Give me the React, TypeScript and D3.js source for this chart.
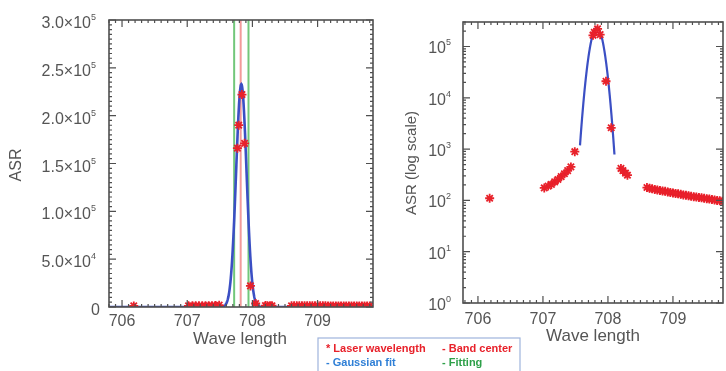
import React from "react";
import * as d3 from "d3";

// ---- data ----
const waveLength = [
  706.18, 707.02, 707.08, 707.13, 707.18, 707.23, 707.28, 707.33, 707.38, 707.43, 707.49,
  707.77, 707.79, 707.84, 707.88, 707.97, 708.05,
  708.2, 708.23, 708.27, 708.3,
  708.6, 708.64, 708.68, 708.72, 708.76, 708.8, 708.84, 708.88, 708.92, 708.96, 709.0,
  709.04, 709.08, 709.12, 709.16, 709.2, 709.24, 709.28, 709.32, 709.36, 709.4, 709.44,
  709.48, 709.52, 709.56, 709.6, 709.64, 709.68, 709.72, 709.76, 709.8,
];
const asrValue = [
  110, 175, 190, 205, 230, 255, 290, 330, 380, 450, 890,
  165000, 189000, 221000, 170000, 21000, 2600,
  420, 380, 340, 310,
  178, 172, 168, 163, 160, 156, 152, 150, 146, 143, 140,
  137, 134, 131, 128, 126, 123, 120, 118, 116, 114, 112,
  110, 108, 106, 104, 102, 100, 98, 96, 95,
];

// Gaussian fit parameters
const gaussAmp = 2.33e5;
const gaussCenter = 707.83;
const gaussSigma = 0.08;
const logFitRange = [707.57, 708.1];

const bandCenter = 707.82;
const fittingBounds = [707.72, 707.94];

const xTicks = [706, 707, 708, 709];
const linTicks = [0, 5e4, 1e5, 1.5e5, 2e5, 2.5e5, 3e5];
const logTicks = [1, 10, 100, 1e3, 1e4, 1e5];

const legendLabels = ["* Laser wavelength", "- Band center", "- Gaussian fit", "- Fitting"];
const legendColors = ["#e8202a", "#e8202a", "#2f7fd6", "#2fa04a"];

const FONT = "'Liberation Sans', Arial, Helvetica, sans-serif";
const TXT = "#555";
const FRAME = "#505050";
const RED = "#e8202a";
const BLUE = "#3b4fc4";

function gauss(x: number) {
  return gaussAmp * Math.exp(-((x - gaussCenter) ** 2) / (2 * gaussSigma ** 2));
}

function Star({ x, y, r = 4.5 }: { x: number; y: number; r?: number }) {
  const d = [0, 45, 90, 135]
    .map((a) => {
      const t = (a * Math.PI) / 180;
      const dx = r * Math.cos(t), dy = r * Math.sin(t);
      return `M${x - dx},${y - dy}L${x + dx},${y + dy}`;
    })
    .join("");
  return <path d={d} stroke={RED} strokeWidth={1.8} fill="none" />;
}

function Frame({ x, y, xMinor, yMinor, yMajor }: any) {
  const [x0, x1] = x.range();
  const [y1, y0] = y.range();
  const ticks: string[] = [];
  xMinor.forEach((v: number) => {
    const px = x(v);
    const len = Math.abs(v - Math.round(v)) < 1e-6 ? 7 : 3;
    ticks.push(`M${px},${y1}V${y1 - len}M${px},${y0}V${y0 + len}`);
  });
  yMinor.forEach((v: number) => {
    const py = y(v);
    ticks.push(`M${x0},${py}H${x0 + 3}M${x1},${py}H${x1 - 3}`);
  });
  yMajor.forEach((v: number) => {
    const py = y(v);
    ticks.push(`M${x0},${py}H${x0 + 7}M${x1},${py}H${x1 - 7}`);
  });
  return (
    <g>
      <rect x={x0} y={y0} width={x1 - x0} height={y1 - y0} fill="none" stroke={FRAME} strokeWidth={1.6} />
      <path d={ticks.join("")} stroke={FRAME} strokeWidth={1.2} fill="none" />
    </g>
  );
}

export default function App() {
  // left panel (linear)
  const xL = d3.scaleLinear().domain([705.8, 709.85]).range([109, 373]);
  const yL = d3.scaleLinear().domain([0, 3e5]).range([307, 20]);
  // right panel (log)
  const xR = d3.scaleLinear().domain([705.77, 709.77]).range([463, 723]);
  const yR = d3.scaleLog().domain([1, 3e5]).range([303, 22]);

  const xMinor = d3.range(7058, 7099).map((v) => v / 10);
  const linMinor = d3.range(0, 300001, 5000);
  const logMinor: number[] = [];
  for (let k = 0; k < 6; k++) for (let m = 1; m < 10; m++) if (m * 10 ** k <= 3e5) logMinor.push(m * 10 ** k);

  const fitXs = d3.range(0, 801).map((i) => 705.8 + (i * (709.85 - 705.8)) / 800);
  const lineL = d3.line<number>().x((v) => xL(v)).y((v) => yL(gauss(v)))(fitXs) as string;
  const fitXsR = d3.range(0, 201).map((i) => logFitRange[0] + (i * (logFitRange[1] - logFitRange[0])) / 200);
  const lineR = d3.line<number>().x((v) => xR(v)).y((v) => yR(gauss(v)))(fitXsR) as string;

  const pts = waveLength.map((w, i) => ({ w, v: asrValue[i] }));

  const fmtLin = (v: number) => {
    if (v === 0) return { m: "0", e: "" };
    const e = Math.floor(Math.log10(v));
    return { m: (v / 10 ** e).toFixed(1) + "×10", e: String(e) };
  };

  return (
    <svg width={726} height={371} style={{ position: "absolute", left: 0, top: 0, background: "#fff" }} fontFamily={FONT}>
      <defs>
        <filter id="soft" x="-5%" y="-5%" width="110%" height="110%">
          <feGaussianBlur stdDeviation={0.55} />
        </filter>
        <clipPath id="clipL">
          <rect x={109} y={20} width={264} height={287} />
        </clipPath>
        <clipPath id="clipR">
          <rect x={463} y={22} width={260} height={281} />
        </clipPath>
      </defs>
      <rect width={726} height={371} fill="#fff" />
      <g filter="url(#soft)">
        {/* ---------- LEFT PANEL ---------- */}
        <g clipPath="url(#clipL)">
          {fittingBounds.map((b, i) => (
            <line key={i} x1={xL(b)} x2={xL(b)} y1={20} y2={307} stroke="#72c77a" strokeWidth={2} />
          ))}
          <line x1={xL(bandCenter)} x2={xL(bandCenter)} y1={20} y2={307} stroke="#f29a9a" strokeWidth={2} />
          <path d={lineL} stroke={BLUE} strokeWidth={2.6} fill="none" />
          {pts.map((p, i) => (
            <Star key={i} x={xL(p.w)} y={yL(p.v) - 1} />
          ))}
        </g>
        <Frame x={xL} y={yL} xMinor={xMinor} yMinor={linMinor} yMajor={linTicks} />
        {xTicks.map((t) => (
          <text key={t} x={xL(t)} y={326} textAnchor="middle" fontSize={16} fill={TXT}>
            {t}
          </text>
        ))}
        {linTicks.map((t) => {
          const f = fmtLin(t);
          return (
            <text key={t} x={f.e ? 96 : 100} y={yL(t) + 8} textAnchor="end" fontSize={16} fill={TXT}>
              {f.m}
              {f.e && (
                <tspan fontSize={9} dy={-8}>
                  {f.e}
                </tspan>
              )}
            </text>
          );
        })}
        <text x={240} y={344} textAnchor="middle" fontSize={17} fill={TXT}>
          Wave length
        </text>
        <text transform="translate(21,165) rotate(-90)" textAnchor="middle" fontSize={16} fill={TXT}>
          ASR
        </text>

        {/* ---------- RIGHT PANEL ---------- */}
        <g clipPath="url(#clipR)">
          <path d={lineR} stroke={BLUE} strokeWidth={2.2} fill="none" />
          {pts.map((p, i) => (
            <Star key={i} x={xR(p.w)} y={yR(p.v)} />
          ))}
        </g>
        <Frame x={xR} y={yR} xMinor={xMinor.filter((v) => v >= 705.77 && v <= 709.77)} yMinor={logMinor} yMajor={logTicks} />
        {xTicks.map((t) => (
          <text key={t} x={xR(t)} y={324} textAnchor="middle" fontSize={16} fill={TXT}>
            {t}
          </text>
        ))}
        {logTicks.map((t) => (
          <text key={t} x={451} y={yR(t) + 7} textAnchor="end" fontSize={16} fill={TXT}>
            10
            <tspan fontSize={9} dy={-8}>
              {Math.round(Math.log10(t))}
            </tspan>
          </text>
        ))}
        <text x={593} y={341} textAnchor="middle" fontSize={17} fill={TXT}>
          Wave length
        </text>
        <text transform="translate(416,163) rotate(-90)" textAnchor="middle" fontSize={15} fill={TXT}>
          ASR (log scale)
        </text>

        {/* ---------- LEGEND ---------- */}
        <rect x={318} y={338} width={202} height={42} fill="#fff" stroke="#9fb4dc" strokeWidth={1.2} />
        {legendLabels.map((l, i) => (
          <text
            key={l}
            x={i % 2 === 0 ? 326 : 442}
            y={i < 2 ? 352 : 366}
            fontSize={11}
            fontWeight="bold"
            fill={legendColors[i]}
          >
            {l}
          </text>
        ))}
      </g>
    </svg>
  );
}
